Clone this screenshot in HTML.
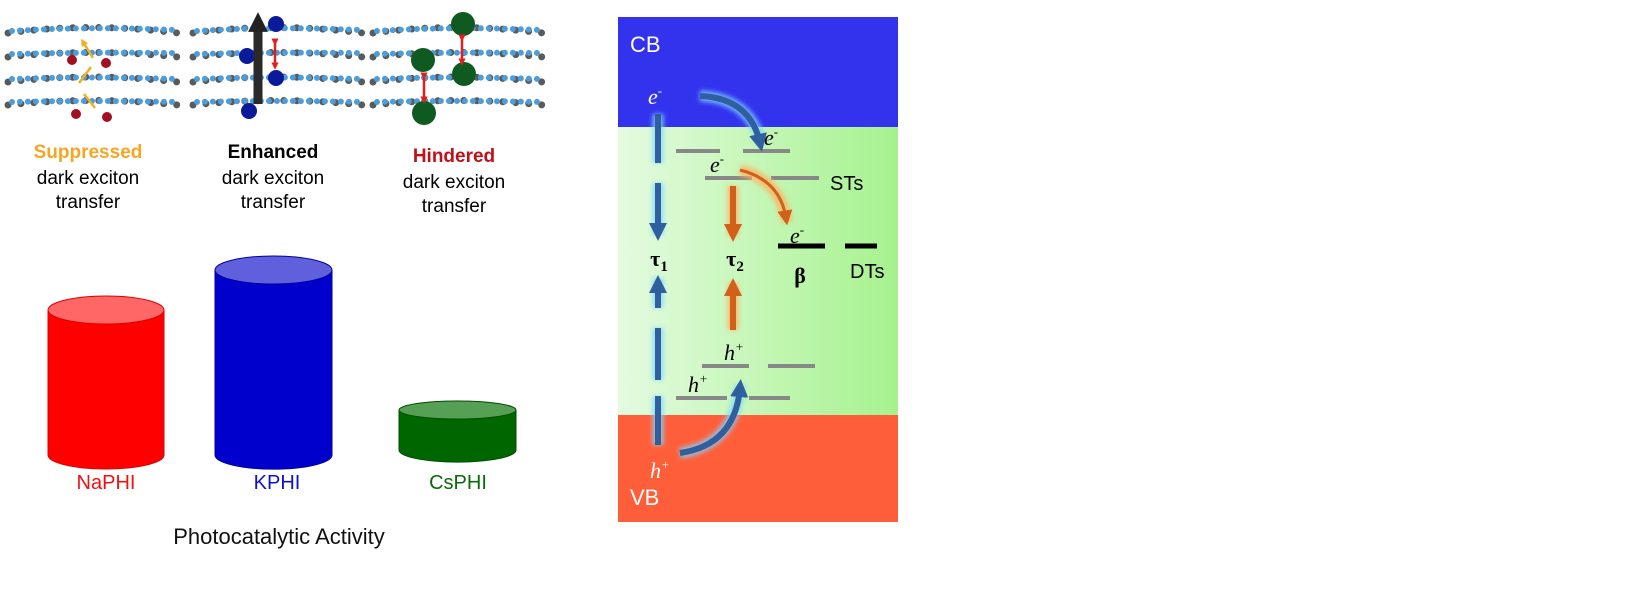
<!DOCTYPE html>
<html><head><style>html,body{margin:0;background:#fff;overflow:hidden}svg{display:block}</style></head><body>
<svg width="1651" height="595" viewBox="0 0 1651 595" xmlns="http://www.w3.org/2000/svg" font-family="Liberation Sans, sans-serif">
<defs>
<linearGradient id="g" x1="0" x2="1"><stop offset="0" stop-color="#e4fbe0"/><stop offset="1" stop-color="#a6f28e"/></linearGradient>
<filter id="bl" x="-20%" y="-20%" width="140%" height="140%"><feGaussianBlur stdDeviation="2.5"/></filter>
<marker id="ab" viewBox="0 0 10 10" refX="5" refY="5" markerWidth="3" markerHeight="3" orient="auto"><path d="M0,0L10,5L0,10z" fill="#2f5f9e"/></marker>
<marker id="ao" viewBox="0 0 10 10" refX="5" refY="5" markerWidth="3" markerHeight="3" orient="auto"><path d="M0,0L10,5L0,10z" fill="#d2601a"/></marker>
<marker id="ao2" viewBox="0 0 10 10" refX="5" refY="5" markerWidth="5" markerHeight="5" orient="auto"><path d="M0,0L10,5L0,10z" fill="#d2601a"/></marker>
<marker id="ar" viewBox="0 0 10 10" refX="5" refY="5" markerWidth="3" markerHeight="3" orient="auto"><path d="M0,0L10,5L0,10z" fill="#e02020"/></marker>
<marker id="ay" viewBox="0 0 10 10" refX="5" refY="5" markerWidth="3" markerHeight="3" orient="auto"><path d="M0,0L10,5L0,10z" fill="#f0b020"/></marker>
<marker id="ak" viewBox="0 0 10 10" refX="5" refY="5" markerWidth="2.2" markerHeight="2.2" orient="auto"><path d="M0,0L10,5L0,10z" fill="#222"/></marker>
</defs>
<g stroke-linecap="round" fill="none">
<g id="m1">
<path d="M8,33 Q90,22 178,33 M8,57 Q90,48 178,57 M8,82 Q90,72 178,82 M8,105 Q90,96 178,105" stroke="#5a5a5a" stroke-width="7" stroke-dasharray="0 13"/>
<path d="M12,31 Q90,26 175,30 M12,54 Q90,52 175,53 M12,79 Q90,76 175,79 M12,102 Q90,100 175,102" stroke="#4c9ddb" stroke-width="6" stroke-dasharray="0 8"/>
</g>
<use href="#m1" x="185"/>
<use href="#m1" x="365"/>
</g>
<circle cx="72" cy="60" r="5" fill="#a01020"/><circle cx="106" cy="63" r="5" fill="#a01020"/><circle cx="76" cy="114" r="5" fill="#a01020"/><circle cx="107" cy="117" r="5" fill="#a01020"/>
<path d="M95,108 L84,94 M79,83 L91,67 M93,58 L83,42" stroke="#f0b020" stroke-width="2.5" marker-end="url(#ay)"/>
<circle cx="276" cy="24" r="8" fill="#0b1a9a"/><circle cx="247" cy="56" r="8" fill="#0b1a9a"/><circle cx="276" cy="78" r="8" fill="#0b1a9a"/><circle cx="249" cy="111" r="8" fill="#0b1a9a"/>
<path d="M258,104 L258,22" stroke="#2a2a2a" stroke-width="9" marker-end="url(#ak)"/>
<path d="M275,42 L275,66" stroke="#e02020" stroke-width="2.5" marker-end="url(#ar)" marker-start="url(#ar)"/>
<circle cx="463" cy="24" r="12" fill="#0e5a20"/><circle cx="423" cy="60" r="12" fill="#0e5a20"/><circle cx="464" cy="74" r="12" fill="#0e5a20"/><circle cx="424" cy="113" r="12" fill="#0e5a20"/>
<path d="M462,38 L462,62" stroke="#e02020" stroke-width="2.5" marker-end="url(#ar)" marker-start="url(#ar)"/>
<path d="M424,76 L424,100" stroke="#e02020" stroke-width="2.5" marker-end="url(#ar)" marker-start="url(#ar)"/>
<g font-size="19" text-anchor="middle">
<text x="88" y="158" fill="#f5a623" font-weight="bold">Suppressed</text><text x="88" y="184">dark exciton</text><text x="88" y="208">transfer</text>
<text x="273" y="158" font-weight="bold">Enhanced</text><text x="273" y="184">dark exciton</text><text x="273" y="208">transfer</text>
<text x="454" y="162" fill="#c0101a" font-weight="bold">Hindered</text><text x="454" y="188">dark exciton</text><text x="454" y="212">transfer</text>
</g>
<g stroke-width="1">
<path d="M48,310 L48,455 A58,14 0 0 0 164,455 L164,310 Z" fill="#ff0000" stroke="#d00"/>
<ellipse cx="106" cy="310" rx="58" ry="14" fill="#ff6666" stroke="#d00"/>
<path d="M215,270 L215,455 A58,14 0 0 0 332,455 L332,270 Z" fill="#0000cc" stroke="#0000a0"/>
<ellipse cx="273.5" cy="270" rx="58.5" ry="14" fill="#6060dd" stroke="#0000a0"/>
<path d="M399,410 L399,450 A58,12 0 0 0 516,450 L516,410 Z" fill="#006600" stroke="#004d00"/>
<ellipse cx="457.5" cy="410" rx="58.5" ry="9" fill="#55a055" stroke="#004d00"/>
</g>
<g font-size="20" text-anchor="middle">
<text x="106" y="489" fill="#ee1111">NaPHI</text>
<text x="277" y="489" fill="#1010cc">KPHI</text>
<text x="458" y="489" fill="#0a6a0a">CsPHI</text>
<text x="279" y="544" fill="#111" font-size="22">Photocatalytic Activity</text>
</g>
<rect x="618" y="17" width="280" height="110" fill="#3333ee"/>
<rect x="618" y="127" width="280" height="288" fill="url(#g)"/>
<rect x="618" y="415" width="280" height="107" fill="#ff5e3a"/>
<text x="630" y="52" fill="#fff" font-size="22">CB</text>
<text x="630" y="505" fill="#fff" font-size="22">VB</text>
<g stroke="#888" stroke-width="4">
<line x1="676" y1="151" x2="720" y2="151"/><line x1="743" y1="151" x2="790" y2="151"/>
<line x1="705" y1="178" x2="752" y2="178"/><line x1="771" y1="178" x2="819" y2="178"/>
<line x1="702" y1="366" x2="749" y2="366"/><line x1="768" y1="366" x2="815" y2="366"/>
<line x1="676" y1="398" x2="727" y2="398"/><line x1="749" y1="398" x2="790" y2="398"/>
</g>
<g stroke="#000" stroke-width="5"><line x1="778" y1="246" x2="825" y2="246"/><line x1="845" y1="246" x2="877" y2="246"/></g>
<g font-size="20"><text x="830" y="190">STs</text><text x="850" y="278">DTs</text></g>
<g fill="none" stroke="#7fd8ff" stroke-width="11" filter="url(#bl)" opacity="0.8">
<path d="M658,114 V163 M658,183 V235 M658,278 V308 M658,328 V380 M658,396 V445"/>
<path d="M700,96 Q750,98 762,145"/><path d="M680,453 Q735,445 740,385"/>
</g>
<g fill="none" stroke="#ffb060" stroke-width="11" filter="url(#bl)" opacity="0.8">
<path d="M733,186 V236 M733,330 V283"/><path d="M740,170 Q780,180 787,222"/>
</g>
<g fill="none" stroke="#2f5f9e" stroke-width="6">
<path d="M658,114 V163 M658,328 V380 M658,396 V445"/>
<path d="M658,183 V232" marker-end="url(#ab)"/>
<path d="M658,308 V284" marker-end="url(#ab)"/>
<path d="M700,96 Q750,98 760,143" marker-end="url(#ab)"/>
<path d="M680,453 Q735,445 740,388" marker-end="url(#ab)"/>
</g>
<g fill="none" stroke="#d2601a" stroke-width="6">
<path d="M733,186 V233" marker-end="url(#ao)"/><path d="M733,330 V287" marker-end="url(#ao)"/>
</g>
<path d="M740,170 Q780,180 786,218" fill="none" stroke="#d2601a" stroke-width="3" marker-end="url(#ao2)"/>
<g font-family="Liberation Serif, serif" font-style="italic" font-size="22">
<text x="648" y="104" fill="#fff">e<tspan font-size="13" dy="-9">-</tspan></text>
<text x="764" y="145">e<tspan font-size="13" dy="-9">-</tspan></text>
<text x="710" y="172">e<tspan font-size="13" dy="-9">-</tspan></text>
<text x="790" y="243">e<tspan font-size="13" dy="-9">-</tspan></text>
<text x="724" y="360">h<tspan font-size="13" dy="-9">+</tspan></text>
<text x="688" y="392">h<tspan font-size="13" dy="-9">+</tspan></text>
<text x="650" y="478" fill="#fff">h<tspan font-size="13" dy="-9">+</tspan></text>
</g>
<g font-family="Liberation Serif, serif" font-weight="bold" font-size="22" text-anchor="middle">
<text x="659" y="266">τ<tspan font-size="15" dy="5">1</tspan></text>
<text x="735" y="266">τ<tspan font-size="15" dy="5">2</tspan></text>
<text x="800" y="283">β</text>
</g>
</svg>
</body></html>
